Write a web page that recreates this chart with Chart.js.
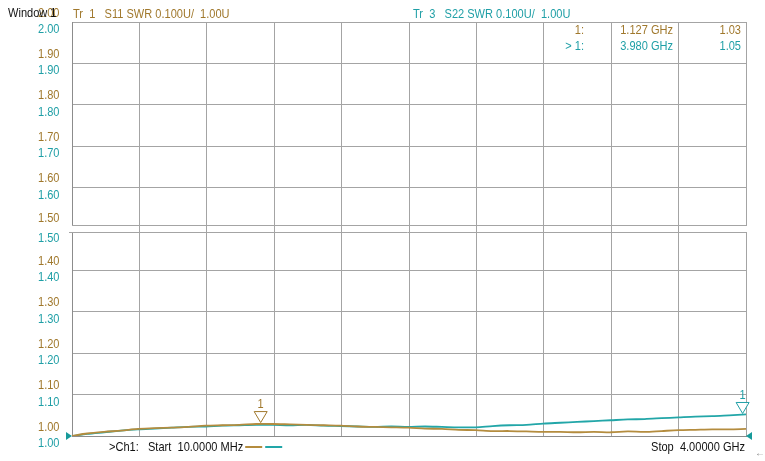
<!DOCTYPE html>
<html>
<head>
<meta charset="utf-8">
<script src="https://cdn.jsdelivr.net/npm/chart.js@4"></script>
<style>
  html, body { margin: 0; padding: 0; background: #fff; }
  canvas { display: block; }
</style>
</head>
<body>
<canvas id="swrChart" width="765" height="461"></canvas>
<script>
// sweep points (MHz) and SWR readings of both traces
const freqMHz = [10, 100, 200, 300, 400, 500, 600, 700, 800, 900, 1000,
  1100, 1200, 1300, 1400, 1500, 1600, 1700, 1800, 1900, 2000,
  2100, 2200, 2300, 2400, 2500, 2600, 2700, 2800, 2900, 3000,
  3100, 3200, 3300, 3400, 3500, 3600, 3700, 3800, 3900, 4000];
const s11 = [1.000, 1.006, 1.010, 1.013, 1.017, 1.019, 1.020, 1.022, 1.025, 1.026, 1.027,
  1.029, 1.029, 1.028, 1.027, 1.026, 1.025, 1.023, 1.022, 1.021, 1.020,
  1.018, 1.017, 1.015, 1.014, 1.012, 1.012, 1.011, 1.010, 1.010, 1.009,
  1.010, 1.009, 1.011, 1.010, 1.012, 1.014, 1.015, 1.016, 1.016, 1.017];
const s22 = [1.000, 1.005, 1.009, 1.013, 1.016, 1.018, 1.020, 1.022, 1.023, 1.025, 1.026,
  1.027, 1.027, 1.026, 1.027, 1.025, 1.024, 1.023, 1.022, 1.023, 1.022,
  1.023, 1.022, 1.021, 1.021, 1.024, 1.026, 1.027, 1.030, 1.032, 1.034,
  1.036, 1.038, 1.040, 1.041, 1.043, 1.045, 1.047, 1.048, 1.050, 1.052];

const yTicks = [2.00, 1.90, 1.80, 1.70, 1.60, 1.50, 1.40, 1.30, 1.20, 1.10, 1.00];
const startMHz = 10, stopMHz = 4000, xDivs = 10;

// markers: [trace1, trace3]
const markerFreq = [1127, 3980];
const markerVal = [1.03, 1.052];
const markerText = [['1:', '1.127 GHz', '1.03'], ['> 1:', '3.980 GHz', '1.05']];

const GOLD = '#a0782c', TEAL = '#1f9fa6';
const GOLD_LINE = '#b48c3e', TEAL_LINE = '#22a6a8';
const GRID = '#a4a4a4';
const FONT = '13px "Liberation Sans", Arial, sans-serif';
const SQUEEZE = 0.85; // instrument font is narrow

const isMid = v => Math.abs(v - 1.5) < 1e-6;

// draw horizontally condensed text, returns its drawn width
function txt(ctx, s, x, y, align, color) {
  ctx.save();
  ctx.fillStyle = color;
  ctx.textAlign = align;
  ctx.translate(x, y);
  ctx.scale(SQUEEZE, 1);
  ctx.fillText(s, 0, 0);
  const w = ctx.measureText(s).width * SQUEEZE;
  ctx.restore();
  return w;
}

const overlay = {
  id: 'overlay',
  beforeDatasetsDraw(chart) {
    const { ctx, chartArea: a, scales: { y } } = chart;
    const py = y.getPixelForValue(1.5);
    ctx.save();
    // split between the upper and lower half of the window
    ctx.fillStyle = '#fff';
    ctx.fillRect(a.left - 2, py - 3, 4, 6);
    ctx.fillRect(a.right - 2, py - 3, 4, 6);
    ctx.strokeStyle = GRID;
    ctx.lineWidth = 1;
    ctx.beginPath();
    ctx.moveTo(a.left, py - 3.5); ctx.lineTo(a.right, py - 3.5);
    ctx.moveTo(a.left - 3, py + 3.5); ctx.lineTo(a.right, py + 3.5);
    ctx.stroke();
    ctx.restore();
  },
  afterDraw(chart) {
    const { ctx, chartArea: a, scales: { x, y } } = chart;
    ctx.save();
    ctx.font = FONT;
    ctx.textBaseline = 'middle';

    // y labels, gold above and teal below each line
    yTicks.forEach(v => {
      const py = y.getPixelForValue(v);
      const extra = isMid(v) ? 2 : 0;
      txt(ctx, v.toFixed(2), 59.5, py - 9 - extra, 'right', GOLD);
      txt(ctx, v.toFixed(2), 59.5, py + 7.5 + extra, 'right', TEAL);
    });

    txt(ctx, 'Window 1', 8, 13, 'left', '#111');
    txt(ctx, 'Tr  1   S11 SWR 0.100U/  1.00U', 73, 14, 'left', GOLD);
    txt(ctx, 'Tr  3   S22 SWR 0.100U/  1.00U', 413, 14, 'left', TEAL);

    // marker readout
    markerText.forEach((row, i) => {
      const col = i === 0 ? GOLD : TEAL;
      const ty = 30 + i * 16;
      txt(ctx, row[0], 584, ty, 'right', col);
      txt(ctx, row[1], 673, ty, 'right', col);
      txt(ctx, row[2], 741, ty, 'right', col);
    });

    // marker triangles
    ctx.lineWidth = 1;
    markerFreq.forEach((f, i) => {
      const px = x.getPixelForValue(f);
      const py = y.getPixelForValue(markerVal[i]) - 1;
      const col = i === 0 ? GOLD : TEAL;
      ctx.strokeStyle = col;
      ctx.fillStyle = 'rgba(255,255,255,0.85)';
      ctx.beginPath();
      ctx.moveTo(px, py);
      ctx.lineTo(px - 6.5, py - 11);
      ctx.lineTo(px + 6.5, py - 11);
      ctx.closePath();
      ctx.fill();
      ctx.stroke();
      txt(ctx, '1', px, py - 18, 'center', col);
    });

    // reference level arrows at both edges
    const ry = y.getPixelForValue(1.0);
    ctx.fillStyle = '#179a9a';
    ctx.beginPath();
    ctx.moveTo(a.left, ry); ctx.lineTo(a.left - 6, ry - 4); ctx.lineTo(a.left - 6, ry + 4);
    ctx.closePath(); ctx.fill();
    ctx.beginPath();
    ctx.moveTo(a.right, ry); ctx.lineTo(a.right + 6, ry - 4); ctx.lineTo(a.right + 6, ry + 4);
    ctx.closePath(); ctx.fill();

    // bottom line
    const ex = 109 + txt(ctx, '>Ch1:   Start  10.0000 MHz', 109, 447, 'left', '#111');
    ctx.lineWidth = 2;
    ctx.strokeStyle = GOLD_LINE;
    ctx.beginPath(); ctx.moveTo(ex + 2, 447); ctx.lineTo(ex + 19, 447); ctx.stroke();
    ctx.strokeStyle = TEAL_LINE;
    ctx.beginPath(); ctx.moveTo(ex + 22, 447); ctx.lineTo(ex + 39, 447); ctx.stroke();
    txt(ctx, 'Stop  4.00000 GHz', 745, 447, 'right', '#111');
    ctx.font = '10px "Liberation Sans", sans-serif';
    ctx.fillStyle = '#888';
    ctx.textAlign = 'right';
    ctx.fillText('\u2190', 765, 453);
    ctx.restore();
  }
};

new Chart(document.getElementById('swrChart'), {
  type: 'line',
  data: {
    datasets: [
      {
        label: 'S11',
        data: freqMHz.map((f, i) => ({ x: f, y: s11[i] })),
        borderColor: GOLD_LINE,
        borderWidth: 1.8,
        pointRadius: 0,
        tension: 0.3
      },
      {
        label: 'S22',
        data: freqMHz.map((f, i) => ({ x: f, y: s22[i] })),
        borderColor: TEAL_LINE,
        borderWidth: 1.8,
        pointRadius: 0,
        tension: 0.3
      }
    ]
  },
  options: {
    responsive: false,
    animation: false,
    events: [],
    layout: { padding: { left: 72, top: 22, right: 19, bottom: 25 } },
    plugins: { legend: { display: false }, tooltip: { enabled: false } },
    scales: {
      x: {
        type: 'linear',
        min: startMHz,
        max: stopMHz,
        afterBuildTicks: s => {
          const step = (stopMHz - startMHz) / xDivs;
          s.ticks = Array.from({ length: xDivs + 1 }, (_, k) => ({ value: startMHz + k * step }));
        },
        ticks: { display: false },
        grid: { color: GRID, drawTicks: false },
        border: { color: '#8c8c8c' }
      },
      y: {
        min: 1.0,
        max: 2.0,
        ticks: { display: false, stepSize: 0.1 },
        grid: {
          drawTicks: false,
          color: c => (c.tick && isMid(c.tick.value)) ? 'rgba(0,0,0,0)' : GRID
        },
        border: { color: '#8c8c8c' }
      }
    }
  },
  plugins: [overlay]
});
</script>
</body>
</html>
